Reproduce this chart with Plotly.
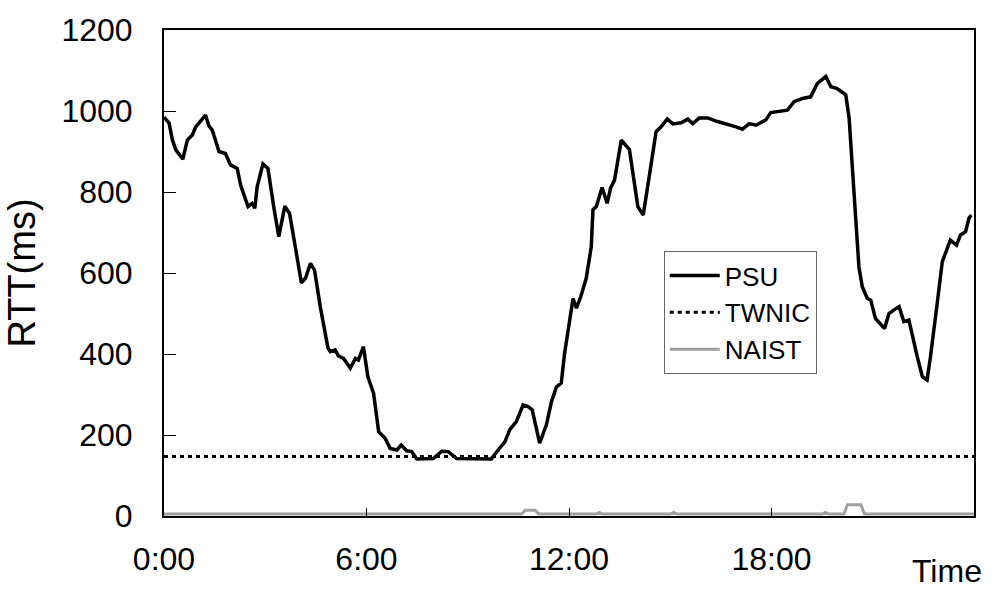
import plotly.graph_objects as go

# PSU RTT (ms) vs time of day (hours)
psu_hours = [0.00, 0.15, 0.25, 0.35, 0.56, 0.69, 0.84, 0.94, 1.23, 1.33, 1.43, 1.63, 1.82, 1.97,
             2.17, 2.27, 2.49, 2.61, 2.69, 2.76, 2.93, 3.08, 3.25, 3.40, 3.58, 3.72, 3.89, 4.07,
             4.19, 4.34, 4.46, 4.63, 4.86, 4.93, 5.07, 5.17, 5.32, 5.52, 5.67, 5.76, 5.91, 6.04,
             6.21, 6.36, 6.55, 6.70, 6.90, 7.03, 7.19, 7.34, 7.49, 7.73, 7.98, 8.23, 8.42, 8.67,
             9.11, 9.70, 9.90, 10.10, 10.25, 10.44, 10.64, 10.79, 10.91, 11.13, 11.33, 11.48,
             11.63, 11.77, 11.87, 11.97, 12.12, 12.22, 12.35, 12.51, 12.66, 12.71, 12.81, 12.98,
             13.13, 13.23, 13.35, 13.55, 13.79, 14.04, 14.20, 14.39, 14.58, 14.73, 14.91, 15.08,
             15.32, 15.52, 15.67, 15.86, 16.11, 16.40, 16.65, 16.95, 17.14, 17.34, 17.54, 17.83,
             17.98, 18.23, 18.47, 18.67, 18.92, 19.16, 19.36, 19.61, 19.76, 19.93, 20.20, 20.30,
             20.40, 20.49, 20.59, 20.69, 20.84, 20.94, 21.08, 21.35, 21.48, 21.63, 21.78, 21.92,
             22.07, 22.32, 22.47, 22.61, 22.71, 22.91, 23.06, 23.30, 23.48, 23.60, 23.75, 23.85,
             23.92]
psu_rtt = [985, 970, 928, 904, 881, 928, 941, 961, 990, 963, 953, 900, 895, 867,
           858, 817, 764, 772, 760, 813, 869, 858, 764, 690, 765, 747, 665, 576,
           587, 624, 607, 517, 414, 406, 410, 395, 389, 365, 389, 385, 418, 344,
           303, 208, 192, 167, 163, 175, 161, 159, 141, 142, 142, 160, 159, 142,
           141, 141, 163, 183, 214, 233, 274, 270, 262, 180, 225, 282,
           319, 328, 402, 459, 537, 513, 542, 587, 665, 756, 764, 811,
           772, 809, 830, 928, 905, 764, 743, 845, 949, 961, 980, 968,
           971, 980, 969, 983, 983, 974, 969, 961, 955, 969, 965, 978,
           996, 998, 1002, 1023, 1031, 1035, 1068, 1085, 1060, 1056, 1040, 982,
           846, 739, 615, 566, 537, 533, 488, 463, 500, 509, 517, 480,
           484, 393, 344, 336, 393, 525, 628, 681, 669, 694, 702, 735,
           743]

twnic_hours = [0, 24]
twnic_rtt = [147, 147]

naist_hours = [0, 10.6, 10.7, 11.0, 11.1, 12.8, 12.9, 13.0, 15.0, 15.1, 15.2,
               19.5, 19.6, 19.7, 20.15, 20.25, 20.65, 20.75, 24]
naist_rtt = [5, 5, 14, 14, 5, 5, 9, 5, 5, 9, 5, 5, 9, 5, 5, 28, 28, 5, 5]

x_tick_vals = [0, 6, 12, 18]
x_tick_text = ["0:00", "6:00", "12:00", "18:00"]
y_tick_vals = [0, 200, 400, 600, 800, 1000, 1200]

FONT = "Liberation Sans, Arial, sans-serif"

fig = go.Figure()
fig.add_trace(go.Scatter(x=psu_hours, y=psu_rtt, mode="lines", name="PSU",
                         line=dict(color="black", width=3.5)))
fig.add_trace(go.Scatter(x=twnic_hours, y=twnic_rtt, mode="lines", name="TWNIC",
                         line=dict(color="black", width=3, dash="4px,4px")))
fig.add_trace(go.Scatter(x=naist_hours, y=naist_rtt, mode="lines", name="NAIST",
                         line=dict(color="#a0a0a0", width=3)))

fig.update_layout(
    width=1000, height=591,
    margin=dict(l=164, r=26, t=26, b=75),
    paper_bgcolor="white", plot_bgcolor="white",
    font=dict(family=FONT, color="black", size=32),
    showlegend=True,
    legend=dict(x=0.617, y=0.545, xanchor="left", yanchor="top",
                bgcolor="white", bordercolor="#666666", borderwidth=1,
                font=dict(size=26, family=FONT), itemwidth=50,
                tracegroupgap=0),
    xaxis=dict(range=[0, 24], tickvals=x_tick_vals, ticktext=x_tick_text,
               ticks="inside", ticklen=8, tickcolor="black", tickwidth=1,
               showline=True, linecolor="black", linewidth=2, mirror=True,
               showgrid=False, zeroline=False, ticklabelstandoff=14,
               tickfont=dict(size=32)),
    yaxis=dict(range=[0, 1200], tickvals=y_tick_vals,
               ticks="inside", ticklen=12, tickcolor="black", tickwidth=1,
               showline=True, linecolor="black", linewidth=2, mirror=True,
               showgrid=False, zeroline=False, ticklabelstandoff=23,
               tickfont=dict(size=32),
               title=dict(text="RTT(ms)", font=dict(size=38), standoff=14)),
    annotations=[dict(text="Time", xref="paper", yref="paper", x=0.967, y=-0.114,
                      xanchor="center", yanchor="middle", showarrow=False,
                      font=dict(size=32))],
)

fig.write_html("out.html")
